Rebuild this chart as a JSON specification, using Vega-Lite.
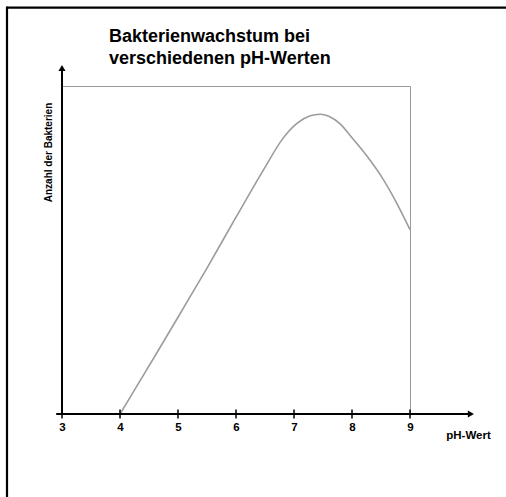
{
  "$schema": "https://vega.github.io/schema/vega-lite/v6.json",
  "width": 348,
  "height": 328,
  "autosize": {"type": "none"},
  "padding": {"left": 62, "top": 86, "right": 96, "bottom": 83},
  "background": "white",
  "config": {"view": {"stroke": "#999999", "strokeWidth": 1}, "font": "Liberation Sans"},
  "title": {
    "text": ["Bakterienwachstum bei", "verschiedenen pH-Werten"],
    "anchor": "start",
    "frame": "group",
    "dx": 47,
    "fontSize": 18,
    "fontWeight": "bold",
    "font": "Liberation Sans",
    "color": "black",
    "lineHeight": 21.8,
    "offset": -62.5
  },
  "datasets": {
    "curve": [
      {"ph": 4.0, "n": 0},
      {"ph": 4.3, "n": 8.8},
      {"ph": 4.6, "n": 17.6},
      {"ph": 5.0, "n": 29.5},
      {"ph": 5.5, "n": 44.5},
      {"ph": 6.0, "n": 60},
      {"ph": 6.5, "n": 75.2},
      {"ph": 6.8, "n": 83.8},
      {"ph": 7.05, "n": 88.6},
      {"ph": 7.28, "n": 90.9},
      {"ph": 7.45, "n": 91.4},
      {"ph": 7.6, "n": 90.8},
      {"ph": 7.8, "n": 88.4},
      {"ph": 8.0, "n": 84.2},
      {"ph": 8.25, "n": 78.8},
      {"ph": 8.5, "n": 72.6},
      {"ph": 8.75, "n": 65},
      {"ph": 9.0, "n": 56.2}
    ],
    "ticks": [{"ph": 3}, {"ph": 4}, {"ph": 5}, {"ph": 6}, {"ph": 7}, {"ph": 8}, {"ph": 9}]
  },
  "layer": [
    {
      "data": {"name": "curve"},
      "mark": {"type": "line", "interpolate": "monotone", "color": "#9c9c9c", "strokeWidth": 1.6},
      "encoding": {
        "x": {
          "field": "ph", "type": "quantitative",
          "scale": {"domain": [3, 9], "nice": false, "zero": false},
          "axis": {
            "title": "pH-Wert", "values": [3, 4, 5, 6, 7, 8, 9], "format": "d",
            "domain": false, "ticks": false, "grid": false, "labelFlush": false,
            "labelFontSize": 11.5, "labelFontWeight": "bold", "labelColor": "black", "labelFont": "Liberation Sans",
            "labelPadding": 7.5,
            "titleFontSize": 11.5, "titleFontWeight": "bold", "titleColor": "black", "titleFont": "Liberation Sans",
            "titleX": 406, "titleY": 24.5, "titleBaseline": "alphabetic", "titleAlign": "center"
          }
        },
        "y": {
          "field": "n", "type": "quantitative",
          "scale": {"domain": [0, 100], "nice": false},
          "axis": {
            "title": "Anzahl der Bakterien",
            "domain": false, "ticks": false, "labels": false, "grid": false,
            "titleFontSize": 10, "titleFontWeight": "bold", "titleColor": "black", "titleFont": "Liberation Sans",
            "titleX": -14, "titleY": 66, "titleAngle": 270, "titleAlign": "center", "titleBaseline": "middle"
          }
        }
      }
    },
    {
      "data": {"values": [{}]},
      "mark": {"type": "rule", "color": "black", "strokeWidth": 2},
      "encoding": {
        "x": {"datum": 2.9},
        "x2": {"datum": 10.0},
        "y": {"datum": 0}
      }
    },
    {
      "data": {"values": [{}]},
      "mark": {"type": "rule", "color": "black", "strokeWidth": 2},
      "encoding": {
        "x": {"datum": 3},
        "y": {"datum": 0},
        "y2": {"datum": 105}
      }
    },
    {
      "data": {"name": "ticks"},
      "mark": {"type": "tick", "orient": "vertical", "color": "black", "size": 9, "thickness": 1.5, "opacity": 1},
      "encoding": {
        "x": {"field": "ph", "type": "quantitative"},
        "y": {"datum": 0}
      }
    },
    {
      "data": {"values": [{}]},
      "mark": {"type": "point", "shape": "triangle-right", "filled": true, "color": "black", "size": 50, "opacity": 1},
      "encoding": {
        "x": {"datum": 10.05},
        "y": {"datum": 0}
      }
    },
    {
      "data": {"values": [{}]},
      "mark": {"type": "point", "shape": "triangle-up", "filled": true, "color": "black", "size": 50, "opacity": 1},
      "encoding": {
        "x": {"datum": 3},
        "y": {"datum": 105.5}
      }
    },
    {
      "data": {"values": [{}]},
      "mark": {"type": "rule", "color": "black", "strokeWidth": 2.2},
      "encoding": {
        "x": {"datum": 2.0517},
        "x2": {"datum": 10.7},
        "y": {"datum": 123.87}
      }
    },
    {
      "data": {"values": [{}]},
      "mark": {"type": "rule", "color": "black", "strokeWidth": 2.2},
      "encoding": {
        "x": {"datum": 2.0517},
        "y": {"datum": -26},
        "y2": {"datum": 124.2}
      }
    }
  ]
}
